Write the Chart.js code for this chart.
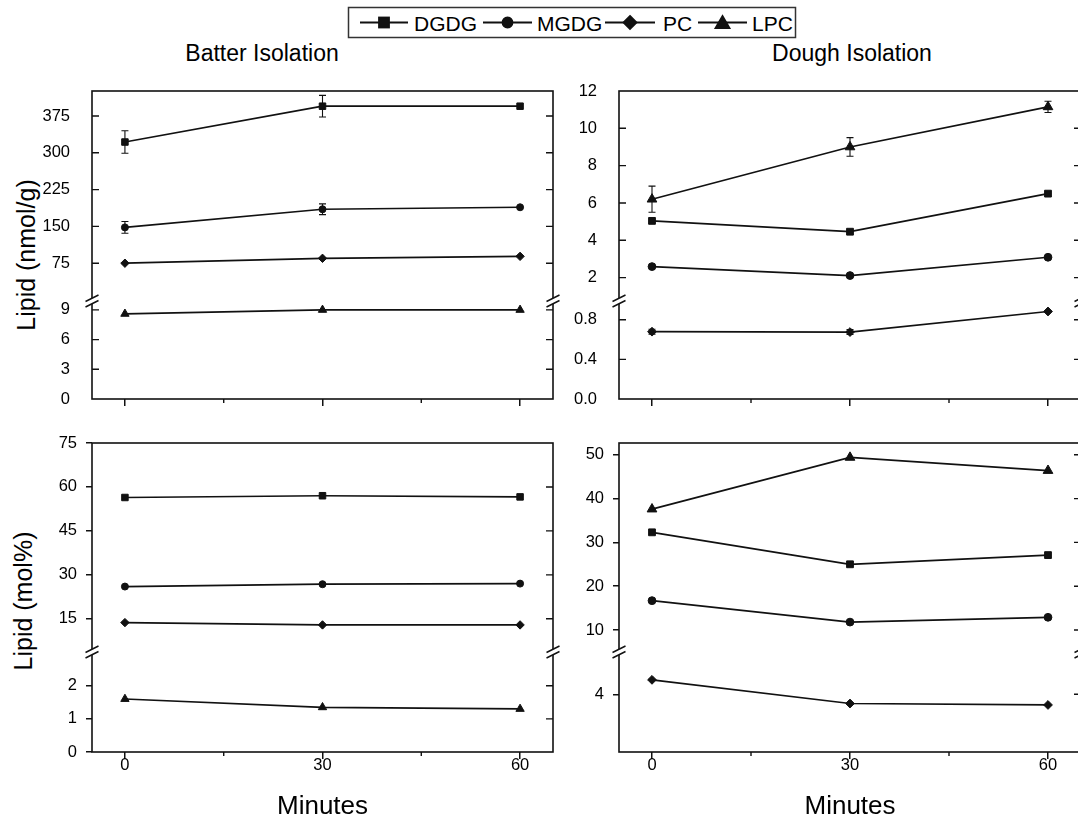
<!DOCTYPE html>
<html>
<head>
<meta charset="utf-8">
<script src="https://cdn.jsdelivr.net/npm/chart.js@4.4.0/dist/chart.umd.min.js"></script>
<style>
  html, body { margin: 0; padding: 0; background: #fff; overflow: hidden; }
  body { width: 1078px; height: 820px; position: relative; font-family: "Liberation Sans", Arial, sans-serif; color: #000; }
  canvas { position: absolute; }
  .txt { position: absolute; white-space: nowrap; line-height: 1; }
  .title { font-size: 23px; transform: translate(-50%, -50%); }
  .ytitle { font-size: 25px; transform: translate(-50%, -50%) rotate(-90deg); }
  .leg { font-size: 21px; transform: translateY(-50%); }
</style>
</head>
<body>

<!-- légende commune -->
<svg style="position:absolute;left:0;top:0" width="1078" height="45">
  <rect x="348.5" y="7.5" width="447" height="30" fill="none" stroke="#333" stroke-width="1.5"/>
  <g stroke="#111" stroke-width="1.8" fill="#111">
    <line x1="360" y1="22.5" x2="408" y2="22.5"/>
    <rect x="379" y="17.5" width="10" height="10"/>
    <line x1="483" y1="22.5" x2="532" y2="22.5"/>
    <circle cx="507.5" cy="22.5" r="5"/>
    <line x1="605" y1="22.5" x2="655" y2="22.5"/>
    <polygon points="630,16 636.5,22.5 630,29 623.5,22.5"/>
    <line x1="698" y1="22.5" x2="747" y2="22.5"/>
    <polygon points="722.5,16 729.5,28 715.5,28"/>
  </g>
</svg>
<div class="txt leg" style="left:414px;top:23px">DGDG</div>
<div class="txt leg" style="left:537px;top:23px">MGDG</div>
<div class="txt leg" style="left:663px;top:23px">PC</div>
<div class="txt leg" style="left:752px;top:23px">LPC</div>

<div class="txt title" style="left:262px;top:53px">Batter Isolation</div>
<div class="txt title" style="left:852px;top:53px">Dough Isolation</div>
<div class="txt ytitle" style="left:26px;top:255px">Lipid (nmol/g)</div>
<div class="txt ytitle" style="left:23px;top:601px">Lipid (mol%)</div>

<canvas id="batterNmol" width="580" height="340" style="left:0;top:80px"></canvas>
<canvas id="doughNmol" width="560" height="340" style="left:540px;top:80px"></canvas>
<canvas id="batterMol" width="580" height="390" style="left:0;top:430px"></canvas>
<canvas id="doughMol" width="560" height="390" style="left:540px;top:430px"></canvas>

<script>
// temps de pétrissage (min)
const minutes = [0, 30, 60];
const minuteTicks = [0, 30, 60];
const minuteMinorTicks = [15, 45];

// Batter, nmol/g
const batterNmolDGDG = [322, 395, 395];
const batterNmolDGDGErr = [23, 22, 0];
const batterNmolMGDG = [148, 185, 189];
const batterNmolMGDGErr = [12, 11, 0];
const batterNmolPC = [75, 85, 89];
const batterNmolLPC = [8.6, 9.0, 9.0];
const batterNmolUpperTicks = [75, 150, 225, 300, 375];
const batterNmolLowerTicks = [0, 3, 6, 9];

// Dough, nmol/g
const doughNmolLPC = [6.2, 9.0, 11.15];
const doughNmolLPCErr = [0.7, 0.5, 0.3];
const doughNmolDGDG = [5.04, 4.46, 6.5];
const doughNmolMGDG = [2.59, 2.11, 3.09];
const doughNmolPC = [0.68, 0.676, 0.884];
const doughNmolPCErr = [0.025, 0.025, 0];
const doughNmolUpperTicks = [2, 4, 6, 8, 10, 12];
const doughNmolLowerTicks = [0, 0.4, 0.8];

// Batter, mol%
const batterMolDGDG = [56.4, 57.0, 56.6];
const batterMolMGDG = [26.0, 26.8, 27.0];
const batterMolPC = [13.7, 12.9, 12.9];
const batterMolLPC = [1.6, 1.35, 1.3];
const batterMolUpperTicks = [15, 30, 45, 60, 75];
const batterMolLowerTicks = [0, 1, 2];

// Dough, mol%
const doughMolLPC = [37.6, 49.4, 46.4];
const doughMolDGDG = [32.3, 25.0, 27.1];
const doughMolMGDG = [16.7, 11.8, 12.9];
const doughMolPC = [4.5, 3.68, 3.63];
const doughMolUpperTicks = [10, 20, 30, 40, 50];
const doughMolLowerTicks = [4];

const FONT = '"Liberation Sans", Arial, sans-serif';
const INK = '#111';
const markerStyle = { DGDG: 'rect', MGDG: 'circle', PC: 'rectRot', LPC: 'triangle' };

// cadre, coupures d'axe, graduations intérieures et barres d'erreur
const panelDecor = {
  id: 'panelDecor',
  beforeDatasetsDraw(chart) {
    const ctx = chart.ctx;
    ctx.save();
    ctx.strokeStyle = INK;
    ctx.lineWidth = 1.1;
    chart.data.datasets.forEach((ds, i) => {
      if (!ds.errors) return;
      const meta = chart.getDatasetMeta(i);
      const ys = chart.scales[meta.yAxisID];
      meta.data.forEach((pt, j) => {
        const e = ds.errors[j];
        if (!e) return;
        const v = ds.data[j].y;
        const y1 = ys.getPixelForValue(v + e), y2 = ys.getPixelForValue(v - e);
        ctx.beginPath();
        ctx.moveTo(pt.x, y1); ctx.lineTo(pt.x, y2);
        ctx.moveTo(pt.x - 3.5, y1); ctx.lineTo(pt.x + 3.5, y1);
        ctx.moveTo(pt.x - 3.5, y2); ctx.lineTo(pt.x + 3.5, y2);
        ctx.stroke();
      });
    });
    ctx.restore();
  },
  afterDraw(chart, args, opts) {
    const ctx = chart.ctx;
    const a = chart.chartArea;
    const x = chart.scales.x;
    ctx.save();
    ctx.strokeStyle = INK;
    ctx.lineWidth = 1.6;
    ctx.strokeRect(a.left, a.top, a.right - a.left, a.bottom - a.top);

    ctx.lineWidth = 1.4;
    ctx.beginPath();
    minuteMinorTicks.forEach(v => {
      const px = x.getPixelForValue(v);
      ctx.moveTo(px, a.bottom); ctx.lineTo(px, a.bottom + 4);
    });
    ['upper', 'lower'].forEach(id => {
      const s = chart.scales[id];
      s.ticks.forEach(t => {
        const py = s.getPixelForValue(t.value);
        if (py < a.top + 2 || py > a.bottom - 2) return;
        if (opts.innerLeft) { ctx.moveTo(a.left, py); ctx.lineTo(a.left + 7, py); }
        ctx.moveTo(a.right, py); ctx.lineTo(a.right - 7, py);
      });
    });
    ctx.stroke();

    // coupure //
    const yb = chart.scales.upper.bottom;
    [a.left, a.right].forEach(px => {
      ctx.fillStyle = '#fff';
      ctx.beginPath();
      ctx.moveTo(px - 6.5, yb + 1.5); ctx.lineTo(px + 6.5, yb - 5);
      ctx.lineTo(px + 6.5, yb + 0.5); ctx.lineTo(px - 6.5, yb + 7);
      ctx.closePath();
      ctx.fill();
      ctx.beginPath();
      ctx.moveTo(px - 6.5, yb + 1.5); ctx.lineTo(px + 6.5, yb - 5);
      ctx.moveTo(px - 6.5, yb + 7); ctx.lineTo(px + 6.5, yb + 0.5);
      ctx.stroke();
    });
    ctx.restore();
  }
};

function fixedTicks(list) {
  return axis => { axis.ticks = list.map(v => ({ value: v })); };
}

function yAxis(o) {
  return {
    type: 'linear',
    position: 'left',
    stack: 'lipid',
    stackWeight: o.stackWeight,
    weight: o.weight,
    min: o.min,
    max: o.max,
    afterBuildTicks: fixedTicks(o.ticks),
    afterFit: s => {
      s.width = o.width;
      s.paddingTop = 0;
      s.paddingBottom = 0;
    },
    border: { display: false },
    grid: o.outside
      ? { display: true, drawOnChartArea: false, drawTicks: true, tickLength: 6, color: INK, lineWidth: 1.5 }
      : { display: false },
    ticks: {
      autoSkip: false,
      padding: o.outside ? 9 : 14,
      color: '#000',
      font: { family: FONT, size: 16.5 },
      callback: o.format || (v => v)
    }
  };
}

function buildPanel(id, p) {
  const datasets = p.series.map(s => ({
    label: s.name,
    data: s.values.map((v, i) => ({ x: minutes[i], y: v })),
    errors: s.errors || null,
    yAxisID: s.axis,
    borderColor: INK,
    backgroundColor: INK,
    borderWidth: 1.7,
    pointStyle: markerStyle[s.name],
    pointRadius: p.marker[s.name],
    pointBackgroundColor: INK,
    pointBorderColor: INK,
    pointBorderWidth: 1,
    tension: 0,
    clip: false
  }));

  return new Chart(document.getElementById(id), {
    type: 'line',
    data: { datasets: datasets },
    options: {
      responsive: false,
      animation: false,
      layout: { padding: { top: p.padTop, right: p.padRight, bottom: 0, left: 0 } },
      plugins: {
        legend: { display: false },
        tooltip: { enabled: false },
        panelDecor: { innerLeft: !p.showX }
      },
      scales: {
        x: {
          type: 'linear',
          min: -5,
          max: 65,
          afterBuildTicks: fixedTicks(minuteTicks),
          afterFit: s => {
            s.height = p.xHeight;
            s.paddingLeft = 0;
            s.paddingRight = 0;
          },
          border: { display: false },
          grid: { drawOnChartArea: false, drawTicks: true, tickLength: 7, color: INK, lineWidth: 1.5 },
          ticks: { display: p.showX, autoSkip: false, padding: -3, maxRotation: 0, color: '#000', font: { family: FONT, size: 16.5 } },
          title: { display: p.showX, text: 'Minutes', color: '#000', font: { family: FONT, size: 26, lineHeight: 1 }, padding: { top: 0, bottom: 0 } }
        },
        lower: yAxis(Object.assign({ weight: 0, outside: p.showX, width: p.yWidth }, p.lower)),
        upper: yAxis(Object.assign({ weight: 1, outside: p.showX, width: p.yWidth }, p.upper))
      }
    },
    plugins: [panelDecor]
  });
}

const smallMarks = { DGDG: 4.6, MGDG: 3.5, PC: 4.2, LPC: 4.8 };
const bigMarks = { DGDG: 4.8, MGDG: 3.9, PC: 4.4, LPC: 5.6 };

buildPanel('batterNmol', {
  padTop: 11, padRight: 27, yWidth: 92, xHeight: 21, showX: false, marker: smallMarks,
  upper: { min: 0, max: 426, ticks: batterNmolUpperTicks, stackWeight: 209 },
  lower: { min: 0, max: 10, ticks: batterNmolLowerTicks, stackWeight: 99 },
  series: [
    { name: 'DGDG', values: batterNmolDGDG, errors: batterNmolDGDGErr, axis: 'upper' },
    { name: 'MGDG', values: batterNmolMGDG, errors: batterNmolMGDGErr, axis: 'upper' },
    { name: 'PC', values: batterNmolPC, axis: 'upper' },
    { name: 'LPC', values: batterNmolLPC, axis: 'lower' }
  ]
});

buildPanel('doughNmol', {
  padTop: 11, padRight: 19, yWidth: 79, xHeight: 21, showX: false, marker: bigMarks,
  upper: { min: 0.8, max: 12, ticks: doughNmolUpperTicks, stackWeight: 209 },
  lower: { min: 0, max: 1.0, ticks: doughNmolLowerTicks, stackWeight: 99, format: v => v.toFixed(1) },
  series: [
    { name: 'DGDG', values: doughNmolDGDG, axis: 'upper' },
    { name: 'MGDG', values: doughNmolMGDG, axis: 'upper' },
    { name: 'PC', values: doughNmolPC, errors: doughNmolPCErr, axis: 'lower' },
    { name: 'LPC', values: doughNmolLPC, errors: doughNmolLPCErr, axis: 'upper' }
  ]
});

buildPanel('batterMol', {
  padTop: 13, padRight: 27, yWidth: 92, xHeight: 68, showX: true, marker: smallMarks,
  upper: { min: 4, max: 75, ticks: batterMolUpperTicks, stackWeight: 208 },
  lower: { min: 0, max: 3.05, ticks: batterMolLowerTicks, stackWeight: 101 },
  series: [
    { name: 'DGDG', values: batterMolDGDG, axis: 'upper' },
    { name: 'MGDG', values: batterMolMGDG, axis: 'upper' },
    { name: 'PC', values: batterMolPC, axis: 'upper' },
    { name: 'LPC', values: batterMolLPC, axis: 'lower' }
  ]
});

buildPanel('doughMol', {
  padTop: 13, padRight: 19, yWidth: 79, xHeight: 68, showX: true, marker: bigMarks,
  upper: { min: 5.2, max: 52.7, ticks: doughMolUpperTicks, stackWeight: 208 },
  lower: { min: 2, max: 5.5, ticks: doughMolLowerTicks, stackWeight: 101 },
  series: [
    { name: 'DGDG', values: doughMolDGDG, axis: 'upper' },
    { name: 'MGDG', values: doughMolMGDG, axis: 'upper' },
    { name: 'PC', values: doughMolPC, axis: 'lower' },
    { name: 'LPC', values: doughMolLPC, axis: 'upper' }
  ]
});
</script>
</body>
</html>
